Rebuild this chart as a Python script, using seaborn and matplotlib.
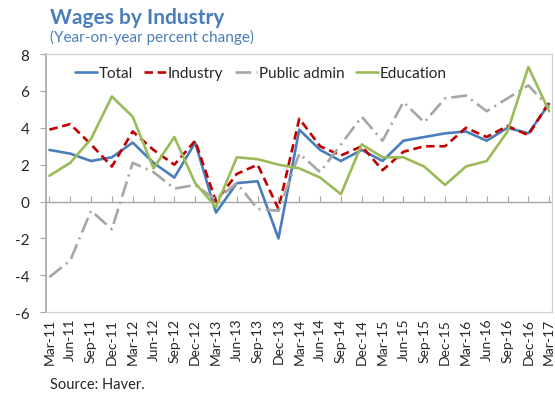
import pandas as pd
import numpy as np
import matplotlib
matplotlib.use('Agg')
import matplotlib.pyplot as plt
import seaborn as sns

# 四半期ラベル
quarters = ['Mar-11', 'Jun-11', 'Sep-11', 'Dec-11', 'Mar-12', 'Jun-12', 'Sep-12', 'Dec-12',
            'Mar-13', 'Jun-13', 'Sep-13', 'Dec-13', 'Mar-14', 'Jun-14', 'Sep-14', 'Dec-14',
            'Mar-15', 'Jun-15', 'Sep-15', 'Dec-15', 'Mar-16', 'Jun-16', 'Sep-16', 'Dec-16',
            'Mar-17']

total = [2.8, 2.6, 2.2, 2.4, 3.2, 2.1, 1.3, 3.2, -0.6, 1.0, 1.1, -2.0, 3.9,
         2.8, 2.2, 2.8, 2.2, 3.3, 3.5, 3.7, 3.8, 3.3, 4.0, 3.7, 5.3]
industry = [3.9, 4.2, 3.1, 1.9, 3.8, 2.8, 2.0, 3.3, 0.0, 1.5, 2.0, -0.4, 4.5,
            3.0, 2.5, 3.0, 1.7, 2.7, 3.0, 3.0, 4.0, 3.5, 4.1, 3.6, 5.4]
public_admin = [-4.1, -3.2, -0.5, -1.5, 2.1, 1.6, 0.7, 0.9, 0.1, 1.0, -0.4, -0.5, 2.6,
                1.6, 3.1, 4.6, 3.3, 5.4, 4.3, 5.6, 5.75, 4.9, 5.6, 6.3, 5.1]
education = [1.4, 2.1, 3.4, 5.7, 4.6, 1.8, 3.5, 1.0, -0.3, 2.4, 2.3, 2.0, 1.8,
             1.3, 0.4, 3.1, 2.4, 2.4, 1.9, 0.9, 1.9, 2.2, 3.8, 7.3, 4.9]

series_names = ['Total', 'Industry', 'Public admin', 'Education']
y_ticks = [-6, -4, -2, 0, 2, 4, 6, 8]

palette = {'Total': '#4A7EBB', 'Industry': '#C00000',
           'Public admin': '#A6A6A6', 'Education': '#9BBB59'}
dashes = {'Total': '', 'Industry': (3.2, 1.8),
          'Public admin': (6, 2, 0.8, 2), 'Education': ''}

# long形式に変換
x_pos = np.arange(len(quarters))
df = pd.DataFrame({
    'x': np.tile(x_pos, 4),
    'value': total + industry + public_admin + education,
    'series': np.repeat(series_names, len(quarters)),
})

sns.set_theme(style='white')
plt.rcParams['font.family'] = ['Lato', 'DejaVu Sans']

fig = plt.figure(figsize=(5.55, 4.02), dpi=100)
ax = fig.add_axes([0.083, 0.221, 0.911, 0.642])

sns.lineplot(data=df, x='x', y='value', hue='series', style='series',
             hue_order=series_names, style_order=series_names,
             palette=palette, dashes=dashes, linewidth=1.9, ax=ax)

# ゼロ線と目盛り
ax.axhline(0, color='#A6A6A6', linewidth=1.0, zorder=1)
ax.vlines(x_pos, 0, 0.3, color='#A6A6A6', linewidth=0.8, zorder=1)

ax.set_xlim(-0.16, 24.12)
ax.set_ylim(-6, 8)
ax.set_yticks(y_ticks)
ax.set_yticklabels([str(t) for t in y_ticks], fontsize=11)
ax.set_xticks(x_pos)
ax.set_xticklabels(quarters, rotation=90, fontsize=10)
ax.tick_params(axis='x', length=0, pad=4)
ax.tick_params(axis='y', length=4, width=0.8, color='#A6A6A6', left=True, pad=8)
ax.set_xlabel('')
ax.set_ylabel('')

for side in ['top', 'right', 'bottom']:
    ax.spines[side].set_color('#D0D0D0')
    ax.spines[side].set_linewidth(0.9)
ax.spines['left'].set_color('#A6A6A6')
ax.spines['left'].set_linewidth(1.2)

handles, labels = ax.get_legend_handles_labels()
keep = [(h, l) for h, l in zip(handles, labels) if l in series_names]
ax.legend([h for h, _ in keep], [l for _, l in keep], loc='center left',
          bbox_to_anchor=(0.045, 0.925), borderaxespad=0, frameon=False, ncol=4,
          handlelength=1.45, handletextpad=0.1, columnspacing=0.75, fontsize=11)

fig.text(0.09, 0.956, 'Wages by Industry', fontsize=15, fontweight='bold',
         color='#4A7EBB', va='center', ha='left')
fig.text(0.09, 0.906, '(Year-on-year percent change)', fontsize=11,
         color='#4A7EBB', va='center', ha='left')
fig.text(0.09, 0.042, 'Source: Haver.', fontsize=10.5, va='center', ha='left')

fig.savefig('out.png', dpi=100)
